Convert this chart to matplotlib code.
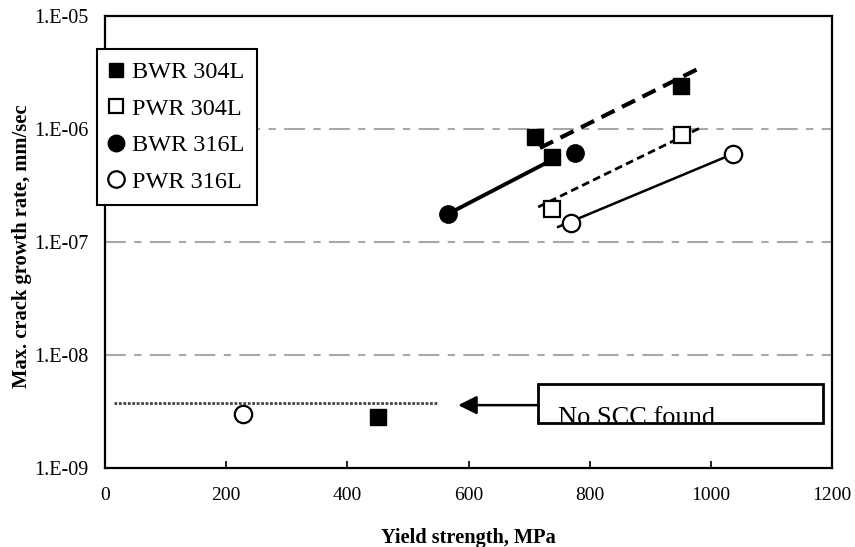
import math
import matplotlib
matplotlib.use('Agg')
import matplotlib.pyplot as plt
from matplotlib.patches import Rectangle
from matplotlib.transforms import Bbox, TransformedBbox
from matplotlib.ticker import FixedLocator, FuncFormatter, NullLocator

plt.rcParams['font.family'] = ['Liberation Serif', 'DejaVu Serif']

# measured points (yield strength MPa, max crack growth rate mm/s)
bwr304_x = [710, 738, 950, 450]
bwr304_y = [8.5e-7, 5.65e-7, 2.4e-6, 2.8e-9]
pwr304_x = [738, 952]
pwr304_y = [1.96e-7, 8.85e-7]
bwr316_x = [566, 776]
bwr316_y = [1.77e-7, 6.1e-7]
pwr316_x = [770, 1036, 228]
pwr316_y = [1.47e-7, 6.0e-7, 3.0e-9]

# trend lines
fit_bwr304_x = [718, 982]
fit_bwr304_y = [6.8e-7, 3.47e-6]
fit_pwr304_x = [715, 982]
fit_pwr304_y = [2.04e-7, 1.02e-6]
fit_bwr316_x = [566, 731]
fit_bwr316_y = [1.77e-7, 5.1e-7]
fit_pwr316_x = [748, 1036]
fit_pwr316_y = [1.36e-7, 6.0e-7]

# "no SCC" threshold and note
noscc_x = [15, 550]
noscc_y = [3.76e-9, 3.76e-9]
arrow_from = (714.5, 3.6e-9)
arrow_to = (583, 3.6e-9)
note_box_x = [714.5, 1185]
note_box_y = [2.5e-9, 5.54e-9]
note_text = 'No SCC found'

x_ticks = [0, 200, 400, 600, 800, 1000, 1200]
y_ticks = [1e-9, 1e-8, 1e-7, 1e-6, 1e-5]
y_grid = [1e-8, 1e-7, 1e-6]

fig = plt.figure(figsize=(8.55, 5.47), dpi=100)
ax = fig.add_axes([105 / 855, 1 - 468 / 547, 727 / 855, 452 / 547])
ax.set_yscale('log')
ax.set_xlim(0, 1200)
ax.set_ylim(1e-9, 1e-5)

for g in y_grid:
    ax.axhline(g, color='#a8a8a8', lw=1.5, dashes=(10, 4, 3.5, 4), zorder=1)

ax.plot(noscc_x, noscc_y, color='#444444', lw=2, linestyle=(0, (1, 0.6)), zorder=2)

ax.plot(fit_bwr304_x, fit_bwr304_y, color='black', lw=3, dashes=(3.5, 2), zorder=3)
ax.plot(fit_pwr304_x, fit_pwr304_y, color='black', lw=2, dashes=(2.8, 1.6), zorder=3)
ax.plot(fit_bwr316_x, fit_bwr316_y, color='black', lw=2.8, zorder=3)
ax.plot(fit_pwr316_x, fit_pwr316_y, color='black', lw=1.8, zorder=3)

ax.plot(bwr304_x, bwr304_y, 's', color='black', ms=11, ls='none', label='BWR 304L', zorder=4)
ax.plot(pwr304_x, pwr304_y, 's', mfc='white', mec='black', mew=1.6, ms=11, ls='none',
        label='PWR 304L', zorder=4)
ax.plot(bwr316_x, bwr316_y, 'o', color='black', ms=12.5, ls='none', label='BWR 316L', zorder=4)
ax.plot(pwr316_x, pwr316_y, 'o', mfc='white', mec='black', mew=1.6, ms=12.5, ls='none',
        label='PWR 316L', zorder=4)

# note box, its text is cut off at the bottom of the box like in the original
rect = Rectangle((note_box_x[0], note_box_y[0]), note_box_x[1] - note_box_x[0],
                 note_box_y[1] - note_box_y[0], facecolor='white', edgecolor='black',
                 lw=2, zorder=5)
ax.add_patch(rect)
txt = ax.text(747, 3.45e-9, note_text, fontsize=19, va='top', ha='left', zorder=6)
clip = TransformedBbox(Bbox([[note_box_x[0], note_box_y[0] * 1.03], [note_box_x[1], note_box_y[1]]]),
                       ax.transData)
txt.set_clip_box(clip)
txt.set_clip_on(True)

ax.annotate('', xy=arrow_to, xytext=arrow_from,
            arrowprops=dict(arrowstyle='-|>', color='black', lw=1.8, mutation_scale=28,
                            shrinkA=0, shrinkB=0), zorder=5)

ax.xaxis.set_major_locator(FixedLocator(x_ticks))
ax.yaxis.set_major_locator(FixedLocator(y_ticks))
ax.yaxis.set_minor_locator(NullLocator())
ax.yaxis.set_major_formatter(FuncFormatter(lambda v, p: '1.E-%02d' % round(-math.log10(v))))
ax.tick_params(axis='x', direction='in', length=5, width=1.2, labelsize=14, pad=14)
ax.tick_params(axis='y', direction='in', length=0, labelsize=14.5, pad=12)
for s in ax.spines.values():
    s.set_linewidth(1.6)

ax.set_xlabel('Yield strength, MPa', fontsize=14.7, fontweight='bold')
ax.set_ylabel('Max. crack growth rate, mm/sec', fontsize=14.8, fontweight='bold')
ax.xaxis.set_label_coords(0.5, -0.132)
ax.yaxis.set_label_coords(-0.1, 0.49)

leg = ax.legend(loc='upper left', bbox_to_anchor=(97 / 855, 1 - 49 / 547),
                bbox_transform=fig.transFigure, fontsize=17.5, frameon=True, fancybox=False,
                edgecolor='black', framealpha=1, borderpad=0.5, labelspacing=0.6,
                handlelength=0.6, handletextpad=0.35, borderaxespad=0, markerscale=0.95)
leg.get_frame().set_linewidth(1.5)
leg.set_zorder(10)

fig.savefig('out.png', dpi=100)
